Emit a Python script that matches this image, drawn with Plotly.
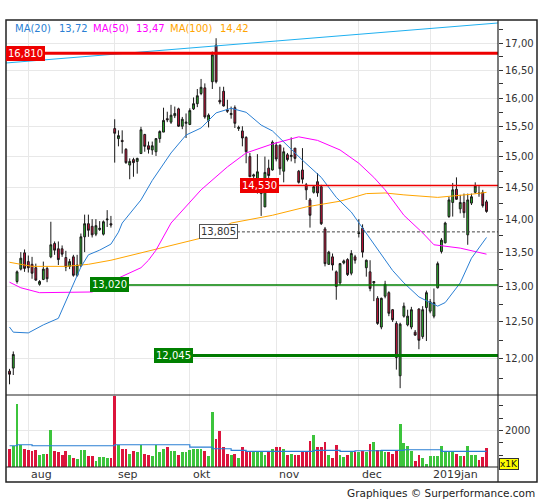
import math
import plotly.graph_objects as go

# ---------------- data ----------------
# trading-day index 0..127 (Jul 25 2018 .. Jan 23 2019)
opens = [11.84, 11.88, 13.07, 13.25, 13.49, 13.36, 13.32, 13.27, 13.03, 13.10,
         13.26, 13.43, 13.63, 13.55, 13.55, 13.42, 13.29, 13.43, 13.16, 13.30,
         13.73, 13.93, 13.89, 13.77, 13.84, 13.77, 13.99, 13.93, 15.47, 15.30,
         15.27, 15.12, 14.86, 14.95, 14.92, 15.05, 15.37, 15.18, 15.11, 15.08,
         15.30, 15.41, 15.64, 15.58, 15.69, 15.81, 15.51, 15.56, 15.54, 15.81,
         15.90, 16.08, 16.18, 15.61, 16.29, 16.96, 15.96, 16.12, 15.79, 15.71,
         15.83, 15.47, 15.43, 15.32, 15.00, 14.68, 14.62, 14.40, 14.19, 14.81,
         14.78, 15.19, 15.19, 14.76, 15.03, 15.00, 15.14, 14.76, 14.78, 14.54,
         14.30, 14.42, 14.59, 14.51, 13.85, 13.32, 13.43, 13.21, 13.05, 13.34,
         13.39, 13.19, 13.43, 13.78, 13.86, 13.27, 13.21, 13.05, 12.83, 12.43,
         12.86, 12.91, 12.67, 12.48, 11.78, 12.58, 12.46, 12.43, 12.36, 12.68,
         12.30, 12.70, 12.65, 12.58, 12.98, 13.51, 13.64, 14.04, 14.26, 14.47,
         14.16, 14.26, 13.76, 14.25, 14.42, 14.41, 14.42, 14.27]
highs = [11.87, 12.10, 13.23, 13.50, 13.54, 13.45, 13.43, 13.33, 13.09, 13.36,
         13.29, 13.96, 13.66, 13.66, 13.60, 13.52, 13.40, 13.46, 13.46, 13.78,
         14.07, 14.07, 14.00, 14.00, 13.97, 13.98, 14.14, 14.05, 15.63, 15.44,
         15.44, 15.14, 14.97, 14.98, 14.98, 15.50, 15.38, 15.25, 15.25, 15.31,
         15.44, 15.83, 15.76, 15.88, 15.85, 15.83, 15.67, 15.73, 15.82, 16.01,
         16.16, 16.34, 16.26, 15.73, 16.84, 17.09, 16.20, 16.20, 15.97, 15.85,
         15.87, 15.52, 15.51, 15.34, 15.06, 14.72, 15.04, 14.60, 15.00, 14.95,
         15.27, 15.24, 15.20, 15.15, 15.06, 15.32, 15.14, 14.78, 15.14, 14.57,
         14.33, 14.53, 14.73, 14.54, 13.88, 13.52, 13.48, 13.23, 13.34, 13.39,
         13.41, 13.53, 13.46, 14.00, 13.92, 13.39, 13.38, 13.07, 12.86, 12.84,
         13.08, 12.93, 12.68, 12.51, 12.49, 12.77, 12.67, 12.71, 12.39, 12.69,
         12.72, 12.94, 12.82, 12.97, 13.36, 13.71, 13.96, 14.35, 14.57, 14.66,
         14.38, 14.40, 14.40, 14.40, 14.58, 14.52, 14.46, 14.30]
lows = [11.67, 11.79, 13.04, 13.23, 13.21, 13.20, 13.11, 13.08, 13.01, 13.09,
        13.06, 13.41, 13.46, 13.31, 13.43, 13.22, 13.25, 13.14, 13.14, 13.28,
        13.50, 13.73, 13.72, 13.74, 13.82, 13.75, 13.88, 13.87, 14.90, 15.17,
        15.05, 14.88, 14.63, 14.67, 14.72, 15.05, 15.08, 15.05, 15.03, 15.01,
        15.23, 15.41, 15.58, 15.55, 15.65, 15.50, 15.46, 15.31, 15.53, 15.79,
        15.84, 16.05, 15.64, 15.49, 16.16, 16.26, 15.89, 15.85, 15.74, 15.64,
        15.48, 15.43, 15.17, 14.89, 14.67, 14.44, 14.40, 14.05, 14.19, 14.65,
        14.77, 14.92, 14.70, 14.58, 14.92, 14.92, 14.89, 14.56, 14.56, 14.30,
        13.87, 14.40, 14.35, 13.91, 13.29, 13.31, 13.23, 12.81, 13.02, 13.32,
        13.15, 13.16, 13.33, 13.72, 13.42, 13.14, 12.93, 12.79, 12.46, 12.40,
        12.83, 12.58, 12.50, 11.86, 11.62, 12.56, 12.44, 12.40, 12.31, 12.13,
        12.27, 12.24, 12.62, 12.55, 12.97, 13.48, 13.63, 14.02, 14.04, 14.30,
        14.09, 14.02, 13.61, 14.22, 14.40, 14.35, 14.18, 14.10]
closes = [11.80, 12.06, 13.21, 13.41, 13.26, 13.27, 13.19, 13.09, 13.07, 13.25,
          13.11, 13.61, 13.53, 13.39, 13.47, 13.28, 13.36, 13.16, 13.31, 13.73,
          13.93, 13.83, 13.76, 13.90, 13.86, 13.96, 14.00, 13.91, 15.39, 15.35,
          15.25, 14.90, 14.92, 14.90, 14.97, 15.45, 15.17, 15.12, 15.18, 15.30,
          15.42, 15.61, 15.62, 15.70, 15.73, 15.51, 15.63, 15.58, 15.78, 15.90,
          16.04, 16.19, 15.67, 15.70, 16.78, 16.29, 15.93, 15.86, 15.77, 15.73,
          15.56, 15.49, 15.31, 15.08, 14.67, 14.70, 14.75, 14.50, 14.74, 14.69,
          15.24, 14.96, 14.80, 15.08, 14.95, 15.02, 14.97, 14.58, 14.63, 14.46,
          14.06, 14.51, 14.41, 13.93, 13.33, 13.50, 13.31, 13.00, 13.33, 13.37,
          13.17, 13.48, 13.38, 13.79, 13.50, 13.38, 12.97, 13.07, 12.48, 12.83,
          13.03, 12.62, 12.53, 12.02, 12.47, 12.72, 12.58, 12.67, 12.32, 12.25,
          12.67, 12.91, 12.78, 12.77, 13.33, 13.68, 13.94, 14.30, 14.46, 14.31,
          14.26, 14.10, 14.30, 14.35, 14.52, 14.40, 14.21, 14.12]
volumes = [991, 1117, 3423, 1171, 991, 937, 847, 937, 631, 721,
           721, 2018, 847, 793, 631, 847, 667, 486, 450, 937,
           901, 577, 613, 342, 541, 523, 486, 486, 3874, 1171,
           991, 991, 721, 847, 793, 1171, 721, 667, 577, 1171,
           793, 991, 1081, 847, 847, 667, 793, 793, 901, 973,
           991, 991, 847, 577, 3009, 1532, 1928, 1081, 721, 667,
           721, 486, 1081, 847, 847, 793, 847, 847, 667, 847,
           973, 1081, 1081, 973, 667, 721, 667, 667, 847, 847,
           1387, 1748, 1081, 1081, 1333, 667, 486, 1171, 667, 541,
           631, 793, 793, 793, 847, 793, 1261, 1333, 937, 901,
           793, 793, 721, 847, 2342, 1297, 1117, 847, 306, 667,
           486, 180, 577, 613, 613, 1117, 811, 811, 847, 721,
           577, 577, 1117, 667, 631, 396, 523, 1027]

# moving averages (day index, value)
ma20_idx = [0, 1, 5, 9, 13, 16, 19, 21, 24, 27, 29, 30, 35, 38, 43, 47, 51, 55, 59, 63,
            67, 70, 78, 83, 87, 91, 96, 99, 102, 105, 109, 112, 114, 116, 120, 123, 127]
ma20_val = [12.43, 12.36, 12.35, 12.46, 12.55, 12.90, 13.28, 13.46, 13.53, 13.62, 13.80,
            13.94, 14.30, 14.61, 15.06, 15.36, 15.48, 15.74, 15.82, 15.75, 15.53, 15.43,
            14.94, 14.66, 14.34, 14.11, 13.71, 13.46, 13.23, 13.05, 12.85, 12.77, 12.72,
            12.77, 13.05, 13.41, 13.72]
ma50_idx = [0, 3, 8, 20, 22, 29, 35, 37, 39, 43, 51, 58, 63, 70, 77, 82, 88, 93, 97,
            100, 105, 110, 113, 120, 127]
ma50_val = [13.06, 12.98, 12.91, 12.91, 12.92, 13.12, 13.27, 13.38, 13.53, 13.94, 14.46,
            14.83, 15.06, 15.21, 15.33, 15.27, 15.11, 14.89, 14.66, 14.46, 14.06, 13.79,
            13.61, 13.56, 13.47]
ma100_idx = [0, 6, 15, 21, 27, 33, 38, 51, 59, 70, 79, 88, 95, 100, 105, 114, 123, 127]
ma100_val = [13.35, 13.29, 13.29, 13.32, 13.38, 13.46, 13.53, 13.71, 13.94, 14.06, 14.19,
             14.28, 14.40, 14.41, 14.38, 14.34, 14.39, 14.42]
volma_idx = [0, 2, 6, 28, 48, 54, 59, 63, 81, 88, 92, 99, 105, 115, 127]
volma_val = [1153, 1207, 1153, 1207, 1081, 991, 901, 847, 901, 847, 883, 901, 937, 847, 847]

legend_names = ["MA(20)", "MA(50)", "MA(100)"]
legend_values = ["13,72", "13,47", "14,42"]

# horizontal levels
level_values = [16.81, 14.53, 13.805, 13.02, 12.045]
level_labels = ["16,810", "14,530", "13,805", "13,020", "12,045"]
trend_values = [16.63, 17.38]

month_idx = [5, 28, 48, 71, 93, 112]
month_labels = ["aug", "sep", "okt", "nov", "dec", "2019jan"]

price_ticks = [12.0, 12.5, 13.0, 13.5, 14.0, 14.5, 15.0, 15.5, 16.0, 16.5, 17.0]
price_ticktext = ["12,00", "12,50", "13,00", "13,50", "14,00", "14,50", "15,00",
                  "15,50", "16,00", "16,50", "17,00"]
price_minor = [11.75, 12.25, 12.75, 13.25, 13.75, 14.25, 14.75, 15.25, 15.75, 16.25,
               16.75, 17.25]
vol_ticks = [2000]
vol_ticktext = ["2000"]
vol_minor = [649, 1330, 2648, 3330]

# ---------------- styling / layout ----------------
FONT = "DejaVu Sans"
GREEN = "#2db82d"
RED = "#d0103a"
VGREEN = "#3cc43c"
VRED = "#dc143c"
C20 = "#2a7fd4"
C50 = "#ff00ff"
C100 = "#ffa500"
TXT = "#333333"

L, R, T, B = 6, 498, 20, 467  # plot area in pixels
def px(x):
    return (x - L) / (R - L)
def py(y):
    return (B - y) / (B - T)

XMIN, XMAX = -0.94, 130.06
days = list(range(len(opens)))
split = py(395)

fig = go.Figure()

fig.add_trace(go.Scatter(x=[XMIN, XMAX], y=trend_values, mode="lines",
                         line=dict(color="#1fb0f0", width=1), hoverinfo="skip",
                         showlegend=False))

fig.add_trace(go.Candlestick(
    x=days, open=opens, high=highs, low=lows, close=closes,
    increasing=dict(line=dict(color="#1a1a1a", width=1), fillcolor=GREEN),
    decreasing=dict(line=dict(color="#1a1a1a", width=1), fillcolor=RED),
    whiskerwidth=0, showlegend=False, xaxis="x", yaxis="y"))

for idx, val, col in [(ma100_idx, ma100_val, C100), (ma50_idx, ma50_val, C50),
                      (ma20_idx, ma20_val, C20)]:
    fig.add_trace(go.Scatter(x=idx, y=val, mode="lines", line=dict(color=col, width=1),
                             showlegend=False, hoverinfo="skip", xaxis="x", yaxis="y"))

# level lines
level_start = [XMIN, 61.35, 60.55, 31.46, 48.65]
level_style = [dict(color="#ee0000", width=3), dict(color="#ee0000", width=1.5),
               dict(color="#444444", width=1, dash="3px,2px"),
               dict(color="#008000", width=1.5), dict(color="#007a00", width=3)]
for v, s, st in zip(level_values, level_start, level_style):
    fig.add_trace(go.Scatter(x=[s, XMAX], y=[v, v], mode="lines", line=st,
                             showlegend=False, hoverinfo="skip", xaxis="x", yaxis="y"))

vol_colors = [VGREEN if c >= o else VRED for o, c in zip(opens, closes)]
fig.add_trace(go.Bar(x=days, y=volumes, marker=dict(color=vol_colors, line=dict(width=0)),
                     width=0.74, showlegend=False, xaxis="x2", yaxis="y2"))
fig.add_trace(go.Scatter(x=volma_idx, y=volma_val, mode="lines", line_shape="hv",
                         line=dict(color=C20, width=1.2), showlegend=False,
                         hoverinfo="skip", xaxis="x2", yaxis="y2"))

annotations = []
# legend texts
leg_x = [13, 57, 91, 134, 168, 218]
leg_cols = [C20, C20, C50, C50, C100, C100]
leg_txt = []
for n, v in zip(legend_names, legend_values):
    leg_txt += [n, v]
for x, t, c in zip(leg_x, leg_txt, leg_cols):
    annotations.append(dict(xref="paper", yref="paper", x=px(x), y=py(28), text=t,
                            showarrow=False, xanchor="left", yanchor="middle",
                            font=dict(family=FONT, size=10, color=c)))
# level labels
lab_x = [XMIN, 61.35, 50.43, 21.42, 38.46]
lab_bg = ["#ee0000", "#ee0000", "#ffffff", "#008000", "#008000"]
lab_fg = ["#ffffff", "#ffffff", "#333333", "#ffffff", "#ffffff"]
lab_bd = ["#ee0000", "#ee0000", "#555555", "#008000", "#008000"]
for v, t, x, bg, fg, bd in zip(level_values, level_labels, lab_x, lab_bg, lab_fg, lab_bd):
    annotations.append(dict(xref="x", yref="y", x=x, y=math.log10(v), text=t,
                            showarrow=False, xanchor="left", yanchor="middle",
                            bgcolor=bg, bordercolor=bd, borderwidth=1, borderpad=1,
                            font=dict(family=FONT, size=10, color=fg)))
# month labels
for m, t in zip(month_idx, month_labels):
    annotations.append(dict(xref="x", yref="paper", x=m, y=py(474.5), text=t,
                            showarrow=False, xanchor="left", yanchor="middle", xshift=1,
                            font=dict(family=FONT, size=11, color=TXT)))
annotations.append(dict(xref="paper", yref="paper", x=px(499), y=py(463.5), text="x1K",
                        showarrow=False, xanchor="left", yanchor="middle",
                        bgcolor="#ffff00", bordercolor="#333333", borderwidth=1,
                        borderpad=0, font=dict(family=FONT, size=9, color="#111111")))
annotations.append(dict(xref="paper", yref="paper", x=px(537), y=py(492.5),
                        text="Graphiques © Surperformance.com", showarrow=False,
                        xanchor="right", yanchor="middle",
                        font=dict(family=FONT, size=10.5, color="#222222")))

FR = "#222222"
shapes = [
    dict(type="rect", xref="paper", yref="paper", x0=0, x1=px(537), y0=py(482), y1=1,
         line=dict(color=FR, width=1.5)),
    dict(type="line", xref="paper", yref="paper", x0=1, x1=1, y0=py(482), y1=1,
         line=dict(color=FR, width=1.2)),
    dict(type="line", xref="paper", yref="paper", x0=0, x1=px(537), y0=split, y1=split,
         line=dict(color=FR, width=1.2)),
    dict(type="line", xref="paper", yref="paper", x0=0, x1=1, y0=0, y1=0,
         line=dict(color=FR, width=1.2)),
]

grid = "#e8e8e8"
tick_style = dict(ticks="outside", ticklen=4, tickwidth=1, tickcolor=TXT,
                  tickfont=dict(family=FONT, size=10, color=TXT))

fig.update_layout(
    width=545, height=500,
    margin=dict(l=L, r=545 - R, t=T, b=500 - B),
    paper_bgcolor="white", plot_bgcolor="white",
    font=dict(family=FONT),
    showlegend=False,
    bargap=0,
    annotations=annotations,
    shapes=shapes,
    xaxis=dict(domain=[0, 1], range=[XMIN, XMAX], anchor="y", tickmode="array",
               tickvals=month_idx, showticklabels=False, ticks="", showgrid=True,
               gridcolor=grid, zeroline=False, showline=False,
               rangeslider=dict(visible=False), fixedrange=True),
    xaxis2=dict(domain=[0, 1], range=[XMIN, XMAX], anchor="y2", matches="x",
                tickmode="array", tickvals=month_idx, showticklabels=False, ticks="",
                showgrid=True, gridcolor=grid, zeroline=False, showline=False,
                fixedrange=True),
    yaxis=dict(domain=[split, 1], type="log",
               range=[math.log10(11.533), math.log10(17.437)], side="right",
               anchor="x", tickmode="array", tickvals=price_ticks, ticktext=price_ticktext,
               showgrid=True, gridcolor=grid, zeroline=False, showline=False,
               minor=dict(tickmode="array", tickvals=price_minor, ticks="outside",
                          ticklen=4, tickcolor=TXT, showgrid=False),
               fixedrange=True, **tick_style),
    yaxis2=dict(domain=[0, split], range=[0, 3908], side="right", anchor="x2",
                tickmode="array", tickvals=vol_ticks, ticktext=vol_ticktext,
                showgrid=True, gridcolor=grid, zeroline=False, showline=False,
                minor=dict(tickmode="array", tickvals=vol_minor, ticks="outside",
                           ticklen=4, tickcolor=TXT, showgrid=False),
                fixedrange=True, **tick_style),
)

fig.write_html("out.html", config={"displayModeBar": False},
               post_script="document.body.style.margin='0px';")
